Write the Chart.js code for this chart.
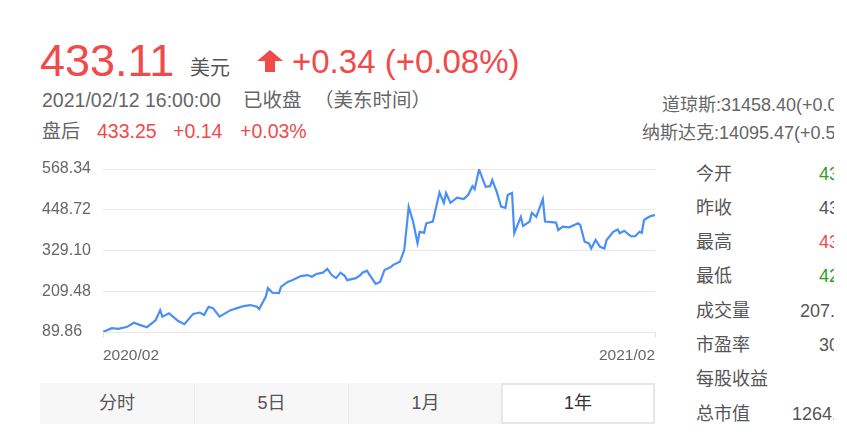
<!DOCTYPE html>
<html>
<head>
<meta charset="utf-8">
<script src="https://cdn.jsdelivr.net/npm/chart.js@4/dist/chart.umd.min.js"></script>
<style>
  html, body { margin: 0; padding: 0; background: #fff; }
  body { width: 847px; height: 442px; overflow: hidden; font-family: "Liberation Sans", Arial, "Noto Sans CJK SC", sans-serif; }
  #wrap { position: absolute; left: 0; top: 0; width: 834px; height: 442px; overflow: hidden; }
  .t { position: absolute; line-height: 1; white-space: nowrap; }
  .red { color: #f14a4a; }
  .gray { color: #666; }
  #chartBox { position: absolute; left: 0; top: 150px; }
  .row-label { position: absolute; left: 696px; font-size: 18px; color: #555; line-height: 1; white-space: nowrap; }
  .row-val { position: absolute; font-size: 18px; color: #555; line-height: 1; white-space: nowrap; }
  #tabs { position: absolute; left: 40px; top: 383px; width: 615px; height: 41px; background: #f7f7f7; }
  .tab { position: absolute; top: 0; width: 154px; height: 41px; line-height: 41px; text-align: center; font-size: 18px; color: #555; box-sizing: border-box; }
  .tab.sep { border-left: 1px solid #ececec; }
  .tab.on { background: #fff; border: 2px solid #e6e6e6; line-height: 37px; color: #333; }
</style>
</head>
<body>
<div id="wrap">
  <!-- header quote -->
  <div class="t red" style="left:40px; top:38px; font-size:45px;">433.11</div>
  <div class="t" style="left:190px; top:58px; font-size:20px; color:#555;">美元</div>
  <svg class="t" style="left:257px; top:50px;" width="26" height="22" viewBox="0 0 26 22">
    <polygon points="13,0 26,11 18,11 18,22 8,22 8,11 0,11" fill="#f14a4a"/>
  </svg>
  <div class="t red" style="left:292px; top:45px; font-size:33px;">+0.34 (+0.08%)</div>

  <div class="t gray" style="left:42px; top:91px; font-size:19.5px;">2021/02/12 16:00:00</div>
  <div class="t gray" style="left:243px; top:91px; font-size:19.5px;">已收盘</div>
  <div class="t gray" style="left:314px; top:91px; font-size:19.5px;">（美东时间）</div>

  <div class="t gray" style="left:42px; top:122px; font-size:19px;">盘后</div>
  <div class="t red" style="left:97px; top:122px; font-size:19.5px;">433.25</div>
  <div class="t red" style="left:173px; top:122px; font-size:19.5px;">+0.14</div>
  <div class="t red" style="left:240px; top:122px; font-size:19.5px;">+0.03%</div>

  <div class="t gray" style="left:662px; top:96px; font-size:18px;">道琼斯:31458.40(+0.0</div>
  <div class="t gray" style="left:642px; top:124px; font-size:18px;">纳斯达克:14095.47(+0.5</div>

  <!-- right panel -->
  <div id="panel"></div>

  <div id="chartBox"><canvas id="c" width="670" height="220"></canvas></div>

  <div id="tabs">
    <div class="tab" style="left:0;">分时</div>
    <div class="tab sep" style="left:154px;">5日</div>
    <div class="tab sep" style="left:308px;">1月</div>
    <div class="tab on" style="left:461px;">1年</div>
  </div>
</div>

<script>
// --- chart data (trading-day index vs close price) ---
const days = [0, 4, 7, 11, 14, 17, 20, 24, 26, 27,
  30, 34, 37, 41, 44, 46, 48, 50, 53, 58,
  61, 64, 67, 70, 71, 74, 75, 77, 80, 81,
  84, 86, 90, 93, 95, 97, 100, 102, 104, 106,
  108, 110, 111, 115, 117, 118, 120, 121, 124, 126,
  128, 131, 132, 135, 137, 139, 141, 143, 144, 146,
  147, 150, 151, 153, 155, 156, 158, 161, 164, 166,
  168, 169, 171, 174, 176, 177, 179, 181, 183, 184,
  186, 187, 190, 191, 194, 195, 197, 200, 201, 206,
  207, 209, 212, 216, 217, 219, 221, 222, 224, 226,
  228, 229, 232, 234, 235, 237, 240, 242, 244, 245,
  246, 247, 249, 251];
const prices = [90, 101, 99, 105, 117, 110, 104, 125, 154, 135,
  145, 123, 113, 143, 147, 140, 164, 160, 135, 154,
  160, 166, 169, 164, 157, 193, 219, 205, 204, 223,
  237, 242, 254, 257, 252, 260, 264, 275, 257, 248,
  264, 254, 242, 248, 257, 264, 270, 260, 231, 237,
  272, 281, 287, 296, 331, 457, 414, 351, 384, 381,
  409, 414, 443, 499, 469, 498, 469, 484, 480, 492,
  518, 509, 567, 516, 518, 536, 502, 458, 454, 492,
  498, 380, 428, 401, 414, 440, 428, 480, 414, 411,
  389, 399, 397, 409, 404, 355, 350, 335, 360, 340,
  335, 360, 384, 391, 380, 387, 371, 371, 384, 381,
  418, 423, 430, 433.11];
const yTicks = [568.34, 448.72, 329.10, 209.48, 89.86];
const xTickDays = [0, 251];
const xTickLabels = ['2020/02', '2021/02'];

// side panel rows
const panelLabels = ['今开', '昨收', '最高', '最低', '成交量', '市盈率', '每股收益', '总市值'];
const panelValues = ['43', '43', '43', '42', '207.', '30', '', '1264.'];
const panelColors = ['#2aa22a', '#555', '#f14a4a', '#2aa22a', '#555', '#555', '#555', '#555'];
const panelValueLeft = [819, 819, 819, 819, 800, 819, 819, 792];

function buildPanel() {
    const panel = document.getElementById('panel');
    panelLabels.forEach((lab, i) => {
        const center = 173 + i * 34.3;
        const l = document.createElement('div');
        l.className = 'row-label';
        l.style.top = (center - 8.5) + 'px';
        l.textContent = lab;
        panel.appendChild(l);
        const v = document.createElement('div');
        v.className = 'row-val';
        v.style.top = (center - 8.5) + 'px';
        v.style.left = panelValueLeft[i] + 'px';
        v.style.color = panelColors[i];
        v.textContent = panelValues[i];
        panel.appendChild(v);
    });
}
buildPanel();

Chart.defaults.font.family = '"Liberation Sans", Arial, sans-serif';

new Chart(document.getElementById('c'), {
    type: 'line',
    data: {
        datasets: [{
            data: days.map((d, i) => ({ x: d, y: prices[i] })),
            borderColor: '#4a8ff8',
            borderWidth: 2.2,
            pointRadius: 0,
            tension: 0,
            fill: false
        }]
    },
    options: {
        responsive: false,
        animation: false,
        devicePixelRatio: 1,
        layout: { padding: { left: 42, right: 15, top: 19, bottom: 0 } },
        plugins: { legend: { display: false }, tooltip: { enabled: false } },
        scales: {
            x: {
                type: 'linear',
                min: 0,
                max: 251,
                afterBuildTicks: s => { s.ticks = xTickDays.map(v => ({ value: v })); },
                afterFit: s => { s.height = 38; },
                ticks: {
                    callback: (v, i) => xTickLabels[i],
                    align: 'inner',
                    maxRotation: 0,
                    autoSkip: false,
                    padding: 8,
                    color: '#666',
                    font: { size: 15.5 }
                },
                grid: { drawOnChartArea: false, color: '#e3e3e3', tickLength: 6 },
                border: { color: '#e8e8e8' }
            },
            y: {
                min: 89.86,
                max: 568.34,
                afterBuildTicks: s => { s.ticks = yTicks.map(v => ({ value: v })); },
                afterFit: s => { s.width = 61; },
                ticks: {
                    callback: v => v.toFixed(2),
                    crossAlign: 'far',
                    color: '#666',
                    font: { size: 16 }
                },
                grid: { color: '#e8e8e8', drawTicks: false },
                border: { display: false }
            }
        }
    }
});
</script>
</body>
</html>
